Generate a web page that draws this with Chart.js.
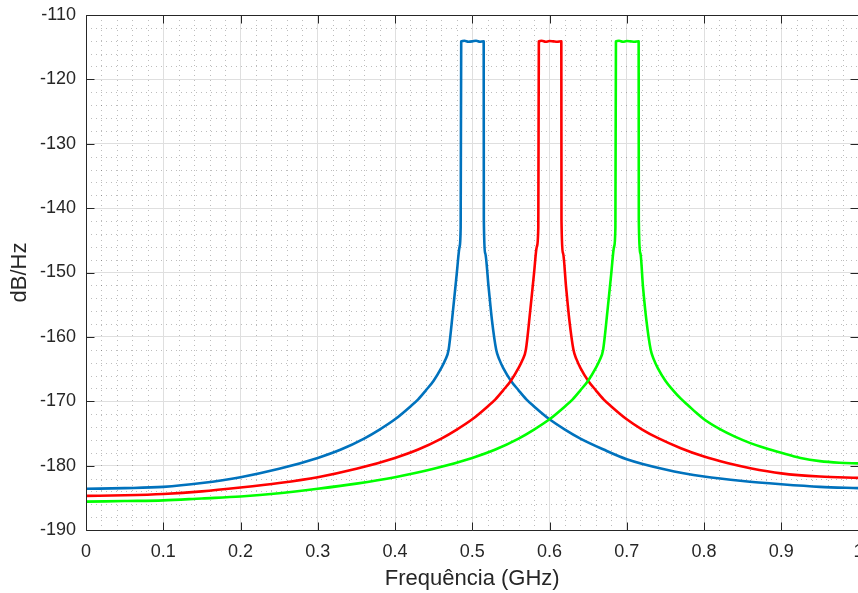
<!DOCTYPE html>
<html><head><meta charset="utf-8">
<script src="https://cdn.jsdelivr.net/npm/chart.js@4.4.0/dist/chart.umd.min.js"></script>
<style>
html,body{margin:0;padding:0;background:#fff;overflow:hidden;}
#wrap{width:858px;height:593px;overflow:hidden;position:relative;}
canvas{display:block;}
</style></head><body>
<div id="wrap"><canvas id="c" width="880" height="593" style="width:880px;height:593px"></canvas></div>
<script>
// ---- data ----
const xTickValues = [0, 0.1, 0.2, 0.3, 0.4, 0.5, 0.6, 0.7, 0.8, 0.9, 1];
const xTickLabels = ['0', '0.1', '0.2', '0.3', '0.4', '0.5', '0.6', '0.7', '0.8', '0.9', '1'];
const yTickValues = [-190, -180, -170, -160, -150, -140, -130, -120, -110];
const yTickLabels = ['-190', '-180', '-170', '-160', '-150', '-140', '-130', '-120', '-110'];

const blueFreq = [0, 0.05, 0.1, 0.15, 0.2, 0.25, 0.3, 0.33, 0.36, 0.38, 0.4, 0.42, 0.43, 0.44, 0.45, 0.46, 0.465, 0.4694, 0.475, 0.48, 0.4836, 0.485, 0.4857, 0.49, 0.495, 0.5, 0.505, 0.51, 0.5148, 0.515, 0.5168, 0.5211, 0.5255, 0.531, 0.535, 0.54, 0.55, 0.56, 0.57, 0.58, 0.6, 0.62, 0.64, 0.67, 0.7, 0.75, 0.8, 0.85, 0.9, 0.95, 1.0];
const blueDb = [-183.6, -183.5, -183.3, -182.7, -181.8, -180.5, -178.8, -177.5, -175.8, -174.4, -172.8, -170.8, -169.7, -168.3, -166.8, -164.8, -163.6, -162.0, -156.0, -150.1, -146.0, -143.0, -114.1, -114.0, -114.15, -114.1, -114.0, -114.15, -114.1, -141.8, -147.0, -152.2, -157.4, -162.0, -163.5, -164.8, -166.8, -168.3, -169.7, -170.8, -172.8, -174.4, -175.8, -177.5, -179.0, -180.6, -181.7, -182.4, -182.9, -183.3, -183.5];

const redFreq = [0, 0.05, 0.1, 0.15, 0.2, 0.25, 0.3, 0.35, 0.4, 0.43, 0.46, 0.48, 0.5, 0.52, 0.53, 0.54, 0.55, 0.56, 0.565, 0.5694, 0.575, 0.58, 0.5836, 0.5855, 0.5862, 0.59, 0.595, 0.6, 0.605, 0.61, 0.6153, 0.6155, 0.6175, 0.6214, 0.6257, 0.631, 0.635, 0.64, 0.65, 0.66, 0.67, 0.68, 0.7, 0.72, 0.74, 0.77, 0.8, 0.83, 0.86, 0.9, 0.95, 1.0];
const redDb = [-184.7, -184.6, -184.4, -184.0, -183.4, -182.7, -181.8, -180.5, -178.8, -177.5, -175.8, -174.4, -172.8, -170.8, -169.7, -168.3, -166.8, -164.8, -163.6, -162.0, -156.0, -150.1, -146.0, -143.0, -114.1, -114.0, -114.15, -114.05, -114.1, -114.15, -114.1, -141.8, -147.0, -152.2, -157.4, -162.0, -163.5, -164.8, -166.8, -168.3, -169.7, -170.8, -172.8, -174.4, -175.7, -177.3, -178.6, -179.6, -180.4, -181.2, -181.7, -181.9];

const greenFreq = [0, 0.05, 0.1, 0.15, 0.2, 0.25, 0.3, 0.35, 0.4, 0.45, 0.5, 0.53, 0.56, 0.58, 0.6, 0.62, 0.63, 0.64, 0.65, 0.66, 0.665, 0.6694, 0.675, 0.68, 0.6836, 0.6853, 0.686, 0.69, 0.695, 0.7, 0.705, 0.71, 0.7154, 0.7156, 0.7176, 0.721, 0.7254, 0.731, 0.735, 0.74, 0.75, 0.76, 0.77, 0.78, 0.79, 0.8, 0.82, 0.84, 0.86, 0.88, 0.9, 0.925, 0.95, 0.975, 1.0];
const greenDb = [-185.6, -185.5, -185.4, -185.1, -184.8, -184.3, -183.6, -182.8, -181.8, -180.5, -178.8, -177.5, -175.8, -174.4, -172.8, -170.8, -169.7, -168.3, -166.8, -164.8, -163.6, -162.0, -156.0, -150.1, -146.0, -143.0, -114.1, -114.0, -114.15, -114.05, -114.1, -114.15, -114.1, -141.8, -147.0, -152.2, -157.4, -162.0, -163.5, -164.8, -166.8, -168.3, -169.6, -170.7, -171.8, -172.8, -174.3, -175.5, -176.5, -177.3, -178.0, -178.8, -179.3, -179.55, -179.65];

const toPoints = (xs, ys) => xs.map((x, i) => ({ x: x, y: ys[i] }));

const FONT = '"Liberation Sans", Arial, Helvetica, sans-serif';
const AXIS_COLOR = '#262626';

const matlabAxes = {
  id: 'matlabAxes',
  beforeDatasetsDraw(chart) {
    const { ctx, chartArea: a, scales: { x, y } } = chart;
    ctx.save();
    ctx.strokeStyle = 'rgba(0,0,0,0.26)';
    ctx.lineWidth = 1;
    ctx.setLineDash([1, 4]);
    for (let k = 0; k <= 50; k++) {
      if (k % 5 === 0) continue;
      const px = Math.round(x.getPixelForValue(k / 50)) + 0.5;
      ctx.beginPath(); ctx.moveTo(px, a.top); ctx.lineTo(px, a.bottom); ctx.stroke();
    }
    for (let v = -190; v <= -110; v += 2) {
      if (v % 10 === 0) continue;
      const py = Math.round(y.getPixelForValue(v)) + 0.5;
      ctx.beginPath(); ctx.moveTo(a.left, py); ctx.lineTo(a.right, py); ctx.stroke();
    }
    ctx.restore();
  },
  afterDatasetsDraw(chart) {
    const { ctx, chartArea: a, scales: { x, y } } = chart;
    ctx.save();
    ctx.strokeStyle = AXIS_COLOR;
    ctx.lineWidth = 1;
    const L = Math.round(a.left) + 0.5, T = Math.round(a.top) + 0.5, B = Math.round(a.bottom) + 0.5, R = a.right;
    ctx.beginPath();
    ctx.moveTo(L, T); ctx.lineTo(R, T);
    ctx.moveTo(L, T); ctx.lineTo(L, B);
    ctx.moveTo(L, B); ctx.lineTo(R, B);
    ctx.moveTo(R, T); ctx.lineTo(R, B);
    ctx.stroke();
    const tl = 8;
    ctx.beginPath();
    xTickValues.forEach(v => {
      const px = Math.round(x.getPixelForValue(v)) + 0.5;
      ctx.moveTo(px, B); ctx.lineTo(px, B - tl);
      ctx.moveTo(px, T); ctx.lineTo(px, T + tl);
    });
    yTickValues.forEach(v => {
      const py = Math.round(y.getPixelForValue(v)) + 0.5;
      ctx.moveTo(L, py); ctx.lineTo(L + tl, py);
      ctx.moveTo(R, py); ctx.lineTo(R - tl, py);
    });
    ctx.stroke();
    ctx.restore();
  }
};

const noPad = s => { s.paddingTop = 0; s.paddingBottom = 0; s.paddingLeft = 0; s.paddingRight = 0; };

new Chart(document.getElementById('c'), {
  type: 'line',
  data: {
    datasets: [
      { label: 'Blue', data: toPoints(blueFreq, blueDb), borderColor: '#0072BD', order: 3 },
      { label: 'Red', data: toPoints(redFreq, redDb), borderColor: '#FF0000', order: 2 },
      { label: 'Green', data: toPoints(greenFreq, greenDb), borderColor: '#00FF00', order: 1 }
    ]
  },
  options: {
    responsive: false,
    devicePixelRatio: 1,
    animation: false,
    layout: { padding: { left: 0, top: 15, right: 21.5, bottom: 0 } },
    plugins: { legend: { display: false }, tooltip: { enabled: false } },
    elements: {
      point: { radius: 0 },
      line: { tension: 0.4, cubicInterpolationMode: 'monotone', borderWidth: 2.6, borderCapStyle: 'round', borderJoinStyle: 'round', fill: false }
    },
    scales: {
      x: {
        type: 'linear', min: 0, max: 1,
        afterBuildTicks: s => { s.ticks = xTickValues.map(v => ({ value: v })); },
        ticks: { callback: (v, i) => xTickLabels[i], font: { family: FONT, size: 18 }, color: AXIS_COLOR, padding: 11, maxRotation: 0, autoSkip: false },
        grid: { color: '#dfdfdf', drawTicks: false, lineWidth: 1 },
        border: { display: false },
        title: { display: true, text: 'Frequência (GHz)', font: { family: FONT, size: 22 }, color: AXIS_COLOR, padding: { top: 0, bottom: 1 } },
        afterFit: s => { s.height = 63; noPad(s); }
      },
      y: {
        type: 'linear', min: -190, max: -110,
        afterBuildTicks: s => { s.ticks = yTickValues.map(v => ({ value: v })); },
        ticks: { callback: (v, i) => yTickLabels[i], font: { family: FONT, size: 18 }, color: AXIS_COLOR, padding: 10, autoSkip: false },
        grid: { color: '#dfdfdf', drawTicks: false, lineWidth: 1 },
        border: { display: false },
        title: { display: true, text: 'dB/Hz', font: { family: FONT, size: 22 }, color: AXIS_COLOR, padding: { top: 7, bottom: 0 } },
        afterFit: s => { s.width = 86; noPad(s); }
      }
    }
  },
  plugins: [matlabAxes]
});
</script></body></html>
